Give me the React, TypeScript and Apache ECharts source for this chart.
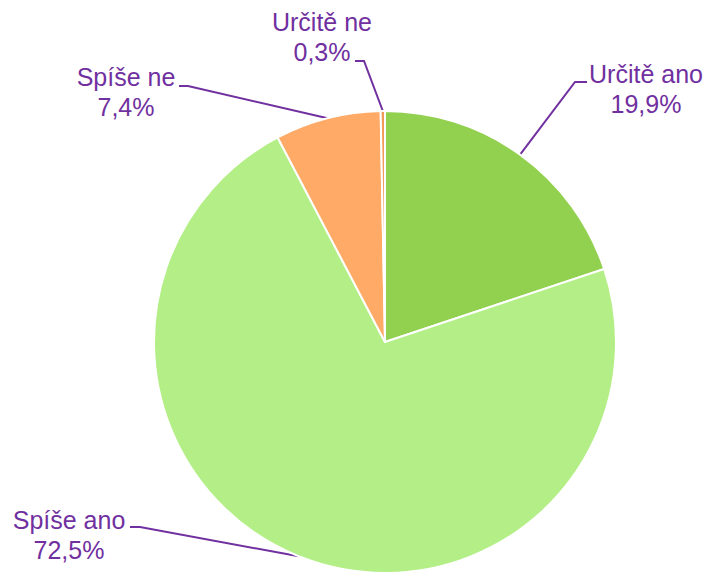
import React, { useEffect, useRef } from "react";
import * as echarts from "echarts";

const categories = ["Určitě ano", "Spíše ano", "Spíše ne", "Určitě ne"];
const values = [19.9, 72.5, 7.4, 0.3];
const colors = ["#92d050", "#b3ef86", "#ffaa66", "#f29a5a"];

// label block centres and elbow offsets (layout only)
const labelPos = [
  { x: 646, y: 89, elbowX: 575, lineY: 82, endX: 587 },
  { x: 69, y: 535, elbowX: 140, lineY: 527, endX: 130 },
  { x: 126, y: 92, elbowX: 188, lineY: 86, endX: 179 },
  { x: 322, y: 37, elbowX: 364, lineY: 61, endX: 355 },
];

export default function App() {
  const ref = useRef<HTMLDivElement>(null);
  useEffect(() => {
    document.body.style.margin = "0";
    const chart = echarts.init(ref.current!, null, { renderer: "svg" });
    chart.setOption({
      animation: false,
      backgroundColor: "#ffffff",
      series: [
        {
          type: "pie",
          center: [385, 342],
          radius: [0, 231],
          startAngle: 90,
          clockwise: true,
          avoidLabelOverlap: false,
          data: categories.map((c, i) => ({
            name: c,
            value: values[i],
            itemStyle: { color: colors[i] },
          })),
          itemStyle: { borderColor: "#ffffff", borderWidth: 2 },
          label: {
            show: true,
            position: "outside",
            formatter: (p: any) =>
              `${p.name}\n${String(values[p.dataIndex]).replace(".", ",")}%`,
            color: "#7030a0",
            fontSize: 25,
            lineHeight: 30,
            fontFamily: "Liberation Sans, Arial, sans-serif",
            align: "center",
          },
          labelLine: {
            show: true,
            length: 10,
            length2: 10,
            smooth: false,
            lineStyle: { color: "#7030a0", width: 2 },
          },
          labelLayout: (params: any) => {
            const lp = labelPos[params.dataIndex];
            const start = params.labelLinePoints
              ? params.labelLinePoints[0]
              : [0, 0];
            return {
              x: lp.x,
              y: lp.y,
              align: "center",
              verticalAlign: "middle",
              labelLinePoints: [
                start,
                [lp.elbowX, lp.lineY],
                [lp.endX, lp.lineY],
              ],
            };
          },
          emphasis: { disabled: true },
        },
      ],
    });
    return () => chart.dispose();
  }, []);
  return <div ref={ref} style={{ width: 709, height: 574 }} />;
}
